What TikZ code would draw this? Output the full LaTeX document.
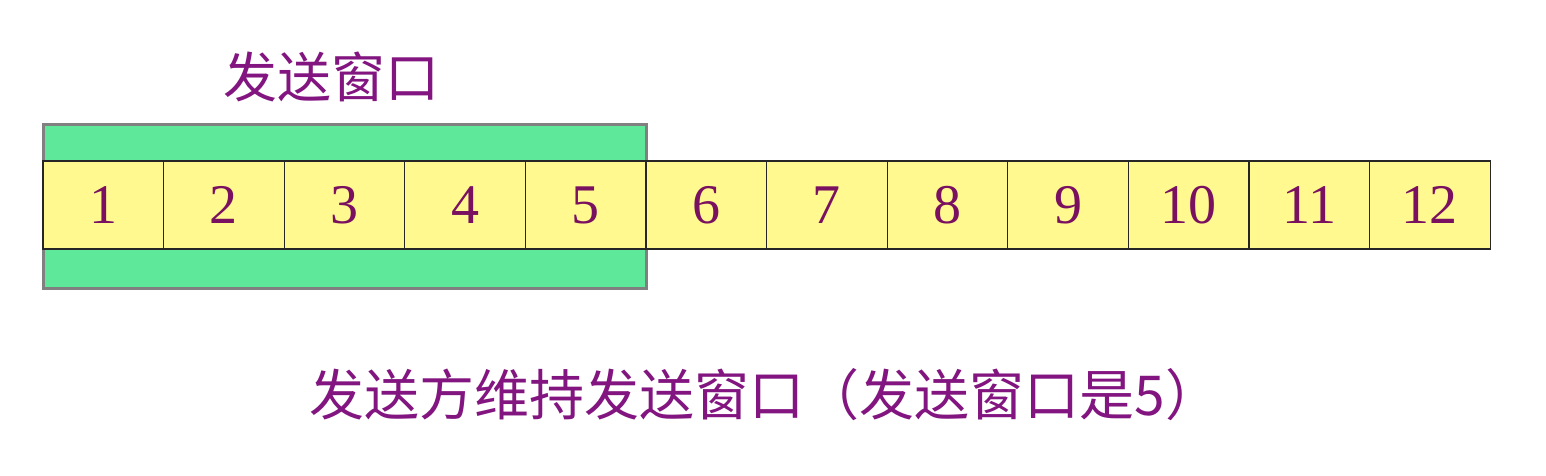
\documentclass[tikz,border=0pt]{standalone}
\usepackage{fontspec}
\setmainfont{Liberation Serif}
\newfontfamily\cjk{Noto Sans CJK SC}
\definecolor{cellfill}{HTML}{FFF98F}
\definecolor{winfill}{HTML}{5EE89A}
\definecolor{digitcol}{HTML}{7A1060}
\definecolor{labcol}{HTML}{82157F}
\definecolor{wingray}{HTML}{808080}
\begin{document}
\begin{tikzpicture}[x=1pt,y=-1pt,
  cellbox/.style={draw=black!85, line width=1.2pt, fill=cellfill, inner sep=0pt},
  digit/.style={text=digitcol, font=\fontsize{56}{60}\selectfont},
  cjklab/.style={text=labcol, font=\cjk\fontsize{54}{60}\selectfont}]
\useasboundingbox (0,0) rectangle (1546,476);
\fill[white] (0,0) rectangle (1546,476);
\node[draw=wingray, line width=3pt, fill=winfill, minimum width=603pt, minimum height=163pt, inner sep=0pt] (win) at (344.5,206.5) {};
\foreach \i [count=\k from 0] in {1,...,12} {
  \node[cellbox, minimum width=120.6pt, minimum height=88pt] (c\i) at ({43+60.3+120.6*\k},205) {};
  \node[digit] (d\i) at (c\i.center) {\i};
}
\node[cjklab] (title) at (331,77) {发送窗口};
\node[cjklab, font=\cjk\fontsize{55}{60}\selectfont] (caption) at (765,395) {发送方维持发送窗口（发送窗口是5）};
\end{tikzpicture}
\end{document}
